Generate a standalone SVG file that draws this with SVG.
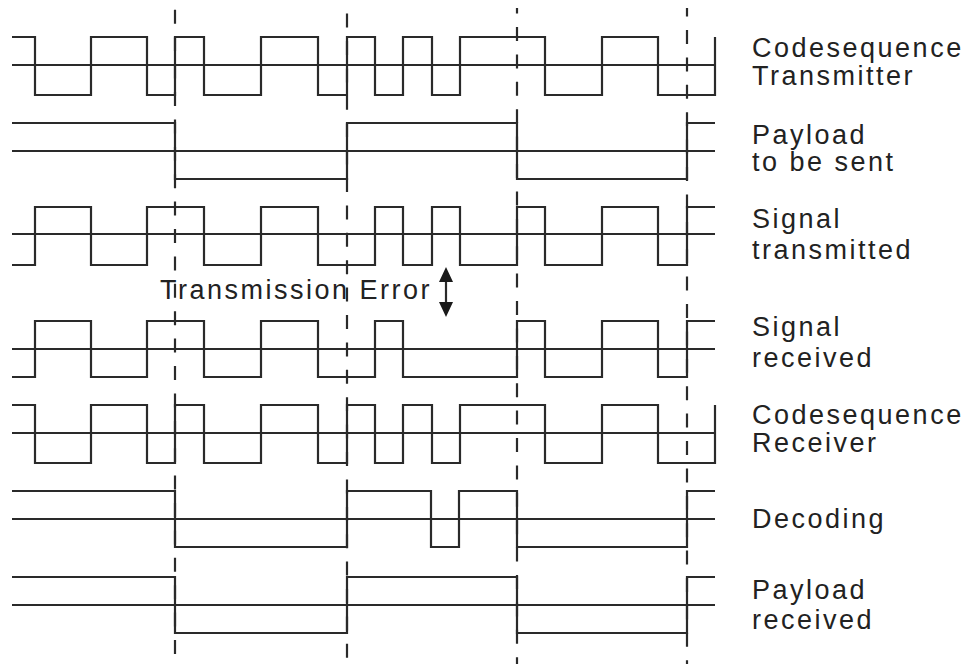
<svg xmlns="http://www.w3.org/2000/svg" width="971" height="664" viewBox="0 0 971 664">
<style>
.sig{fill:none;stroke:#2a2a2a;stroke-width:2.2;stroke-linejoin:miter;stroke-linecap:butt}
.dash{fill:none;stroke:#2a2a2a;stroke-width:2.2;stroke-dasharray:14 13.4}
.lbl{font-family:"Liberation Sans",Arial,sans-serif;font-size:27px;letter-spacing:2.5px;fill:#222}
</style>
<rect width="971" height="664" fill="#fff"/>
<g id="gridlines">
<line class="dash" x1="175" y1="8" x2="175" y2="664" style="stroke-dashoffset:25.6"/>
<line class="dash" x1="347" y1="8" x2="347" y2="664" style="stroke-dashoffset:21.8"/>
<line class="dash" x1="517" y1="8" x2="517" y2="664" style="stroke-dashoffset:8.4"/>
<line class="dash" x1="687" y1="8" x2="687" y2="664" style="stroke-dashoffset:5.4"/>
</g>
<g id="row1">
<path class="sig" d="M12,65 H715"/>
<path class="sig" d="M12,37 H35 V95 H91 V37 H147 V95 H175 V37 H204 V95 H261 V37 H318 V95 H347 V37 H375 V95 H403 V37 H432 V95 H460 V37 H545 V95 H602 V37 H658 V95 H715 V37"/>
<text class="lbl" x="752" y="57">Codesequence</text>
<text class="lbl" x="752" y="85">Transmitter</text>
</g>
<g id="row2">
<path class="sig" d="M12,151 H715"/>
<path class="sig" d="M12,123 H175 V179 H347 V123 H517 V179 H687 V123 H715"/>
<text class="lbl" x="752" y="144">Payload</text>
<text class="lbl" x="752" y="171">to be sent</text>
</g>
<g id="row3">
<path class="sig" d="M12,234 H715"/>
<path class="sig" d="M12,265 H35 V207 H91 V265 H147 V207 H204 V265 H261 V207 H318 V265 H375 V207 H403 V265 H432 V207 H460 V265 H517 V207 H545 V265 H602 V207 H658 V265 H687 V207 H715"/>
<text class="lbl" x="752" y="228">Signal</text>
<text class="lbl" x="752" y="259">transmitted</text>
</g>
<g id="error">
<text class="lbl" x="160" y="299">Transmission Error</text>
<line class="sig" x1="446" y1="280" x2="446" y2="304"/>
<polygon points="446,267 439,282 453,282" fill="#1a1a1a"/>
<polygon points="446,317 439,302 453,302" fill="#1a1a1a"/>
</g>
<g id="row4">
<path class="sig" d="M12,349 H715"/>
<path class="sig" d="M12,377 H35 V321 H91 V377 H147 V321 H204 V377 H261 V321 H318 V377 H375 V321 H403 V377 H517 V321 H545 V377 H602 V321 H658 V377 H687 V321 H715"/>
<text class="lbl" x="752" y="336">Signal</text>
<text class="lbl" x="752" y="367">received</text>
</g>
<g id="row5">
<path class="sig" d="M12,433 H715"/>
<path class="sig" d="M12,405 H35 V463 H91 V405 H147 V463 H175 V405 H204 V463 H261 V405 H318 V463 H347 V405 H375 V463 H403 V405 H432 V463 H460 V405 H545 V463 H602 V405 H658 V463 H715 V405"/>
<text class="lbl" x="752" y="424">Codesequence</text>
<text class="lbl" x="752" y="452">Receiver</text>
</g>
<g id="row6">
<path class="sig" d="M12,519 H715"/>
<path class="sig" d="M12,491 H175 V547 H347 V491 H431 V547 H459 V491 H517 V547 H687 V491 H715"/>
<text class="lbl" x="752" y="528">Decoding</text>
</g>
<g id="row7">
<path class="sig" d="M12,605 H715"/>
<path class="sig" d="M12,577 H175 V633 H347 V577 H517 V633 H687 V577 H715"/>
<text class="lbl" x="752" y="599">Payload</text>
<text class="lbl" x="752" y="629">received</text>
</g>
</svg>
